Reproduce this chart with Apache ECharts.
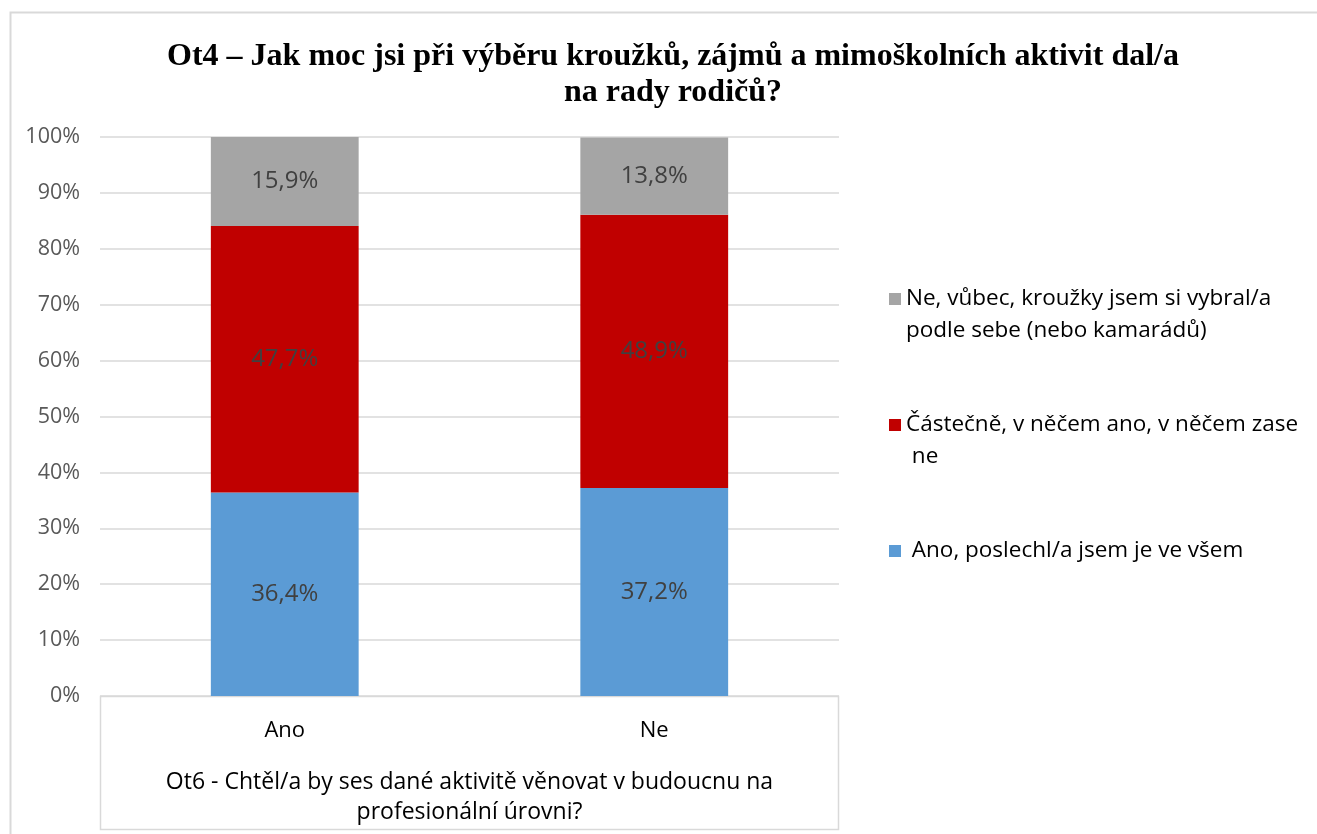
<!DOCTYPE html>
<html>
<head>
<meta charset="utf-8">
<script src="https://cdn.jsdelivr.net/npm/echarts@6/dist/echarts.min.js"></script>
<style>html,body{margin:0;padding:0;background:#fff}#c{width:1317px;height:834px}</style>
</head>
<body>
<div id="c"></div>
<script>
var categories = ['Ano', 'Ne'];
var seriesNames = [
  'Ano, poslechl/a jsem je ve všem',
  'Částečně, v něčem ano, v něčem zase ne',
  'Ne, vůbec, kroužky jsem si vybral/a podle sebe (nebo kamarádů)'
];
var valuesAll = [36.4, 37.2];
var valuesPartly = [47.7, 48.9];
var valuesNone = [15.9, 13.8];
var yTicks = [0, 10, 20, 30, 40, 50, 60, 70, 80, 90, 100];
var titleText = 'Ot4 – Jak moc jsi při výběru kroužků, zájmů a mimoškolních aktivit dal/a\nna rady rodičů?';
var xAxisTitle = 'Ot6 - Chtěl/a by ses dané aktivitě věnovat v budoucnu na\nprofesionální úrovni?';
var legendLabels = {};
legendLabels[seriesNames[2]] = ' \nNe, vůbec, kroužky jsem si vybral/a\npodle sebe (nebo kamarádů)';
legendLabels[seriesNames[1]] = ' \nČástečně, v něčem ano, v něčem zase\n ne';
legendLabels[seriesNames[0]] = ' \n Ano, poslechl/a jsem je ve všem\n ';
var colors = ['#5B9BD5', '#C00000', '#A5A5A5'];

var FONT = 'Open Sans';
function fmt(p) { return p.value.toFixed(1).replace('.', ',') + '%'; }
function mk(name, data, color) {
  return {
    name: name, type: 'bar', stack: 'total', data: data, barWidth: '40%',
    itemStyle: { color: color },
    label: { show: true, position: 'inside', formatter: fmt, color: '#404040', fontSize: 24, fontFamily: FONT }
  };
}
var chart = echarts.init(document.getElementById('c'));
chart.setOption({
  animation: false,
  backgroundColor: '#fff',
  title: {
    text: titleText, left: 668, top: 34, textAlign: 'center',
    textStyle: { fontFamily: 'Liberation Serif', fontWeight: 'bold', fontSize: 32, lineHeight: 36, color: '#000' }
  },
  grid: { left: 100, right: 478, top: 137, bottom: 138, outerBoundsMode: 'none' },
  legend: {
    orient: 'vertical', left: 884, top: 246,
    data: [seriesNames[2], seriesNames[1], seriesNames[0]],
    icon: 'rect', itemWidth: 12, itemHeight: 12, itemGap: 30,
    formatter: function (n) { return legendLabels[n]; },
    textStyle: { fontFamily: FONT, fontSize: 22.5, lineHeight: 32, color: '#000' }
  },
  xAxis: {
    type: 'category', data: categories,
    axisLine: { show: false }, axisTick: { show: false },
    axisLabel: { fontFamily: FONT, fontSize: 22, color: '#000', margin: 24 },
    name: xAxisTitle, nameLocation: 'middle', nameGap: 71,
    nameTextStyle: { fontFamily: FONT, fontSize: 23, lineHeight: 30, color: '#000' }
  },
  yAxis: {
    type: 'value', min: yTicks[0], max: yTicks[yTicks.length - 1], interval: 10,
    axisLabel: { formatter: '{value}%', fontFamily: FONT, fontSize: 21.5, color: '#595959', margin: 20 },
    splitLine: { lineStyle: { color: '#d9d9d9', width: 1.5 } },
    axisLine: { show: false }, axisTick: { show: false }
  },
  graphic: [
    { type: 'rect', shape: { x: 10.5, y: 12.5, width: 1330, height: 840 }, style: { fill: null, stroke: '#d9d9d9', lineWidth: 2 }, silent: true, z: -1 },
    { type: 'rect', shape: { x: 100.5, y: 696.5, width: 738, height: 133 }, style: { fill: null, stroke: '#d9d9d9', lineWidth: 1.5 }, silent: true, z: -1 }
  ],
  series: [
    mk(seriesNames[0], valuesAll, colors[0]),
    mk(seriesNames[1], valuesPartly, colors[1]),
    mk(seriesNames[2], valuesNone, colors[2])
  ]
});
</script>
</body>
</html>
